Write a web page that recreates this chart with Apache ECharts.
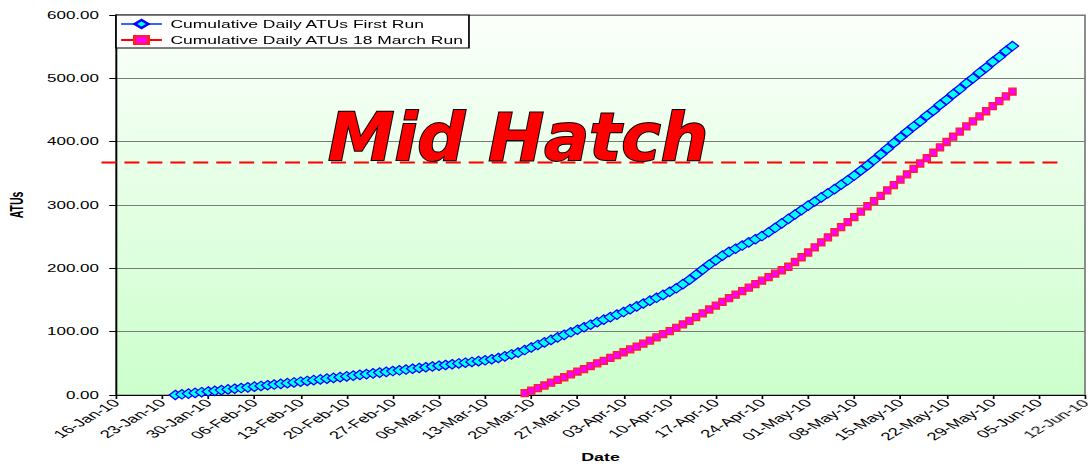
<!DOCTYPE html>
<html>
<head>
<meta charset="utf-8">
<script src="https://cdn.jsdelivr.net/npm/echarts@6/dist/echarts.min.js"></script>
<style>
  html, body { margin: 0; padding: 0; background: #fff; }
  #wrap { width: 1091px; height: 466px; overflow: hidden; background: #fff; }
  #chart { height: 466px; transform-origin: 0 0; }
</style>
</head>
<body>
<div id="wrap"><div id="chart"></div></div>
<script>
// Horizontal stretch of the whole drawing (the chart is laid out narrow, then widened).
const STRETCH = 1.7;
const LAYOUT_W = 1091 / STRETCH;

// Date axis: days counted from 16-Jan-10, one tick per week.
const axisStartDate = '2010-01-16';
const tickLabels = ['16-Jan-10', '23-Jan-10', '30-Jan-10', '06-Feb-10', '13-Feb-10', '20-Feb-10',
  '27-Feb-10', '06-Mar-10', '13-Mar-10', '20-Mar-10', '27-Mar-10', '03-Apr-10', '10-Apr-10',
  '17-Apr-10', '24-Apr-10', '01-May-10', '08-May-10', '15-May-10', '22-May-10', '29-May-10',
  '05-Jun-10', '12-Jun-10'];
const valueTicks = [0, 100, 200, 300, 400, 500, 600];

const seriesNames = ['Cumulative Daily ATUs First Run', 'Cumulative Daily ATUs 18 March Run'];

// Cumulative daily ATUs, one value per day from the start date.
const firstRunStart = '2010-01-25';
const firstRun = [
  0, 1.1, 2.2, 3.3, 4.4, 5.5, 6.6,
  7.7, 8.8, 9.9, 11.0, 12.1, 13.2, 14.3,
  15.4, 16.5, 17.6, 18.7, 19.8, 21.0, 22.2,
  23.4, 24.6, 25.8, 27.0, 28.2, 29.4, 30.6,
  31.8, 33.0, 34.2, 35.4, 36.6, 37.8, 39.0,
  40.2, 41.4, 42.6, 43.8, 45.0, 46.2, 47.4,
  48.6, 49.8, 51.0, 52.2, 53.4, 54.8, 56.4,
  58.4, 61.0, 64.0, 67.0, 71.0, 75.0, 79.0,
  83.0, 87.0, 91.0, 95.0, 99.0, 103.0, 107.0,
  111.0, 115.0, 119.0, 123.0, 127.0, 131.0, 135.5,
  140.0, 144.5, 149.0, 153.5, 158.0, 163.0, 168.5,
  175.0, 182.0, 190.0, 198.0, 206.0, 213.0, 220.0,
  226.0, 231.0, 236.0, 241.0, 246.0, 251.0, 257.0,
  264.0, 271.0, 278.0, 285.0, 292.0, 299.0, 305.5,
  312.0, 318.5, 325.0, 332.0, 339.0, 346.5, 354.5,
  362.5, 371.0, 380.0, 389.0, 398.0, 407.0, 415.5,
  424.0, 432.0, 441.0, 449.0, 458.0, 466.0, 475.0,
  483.0, 492.0, 500.0, 509.0, 517.0, 526.0, 534.0,
  543.0, 551.0
];

const marchRunStart = '2010-03-19';
const marchRun = [
  3, 7, 11, 15, 19.5, 24, 28,
  32.5, 37, 41, 45.5, 50, 54, 58.5,
  63, 67.5, 72, 76.5, 81, 86, 91,
  96, 101, 106, 111.5, 117, 123, 129,
  135, 141, 147, 153, 158.5, 164, 169.5,
  175, 180.5, 186, 191.5, 197, 202.5, 210,
  217.5, 225, 233, 241, 249, 257, 265,
  273, 281, 289.5, 298, 306, 314.5, 323,
  331.5, 340, 348.5, 357, 365.5, 374, 382.5,
  391, 399.5, 408, 416, 424, 432, 440,
  448, 456, 464, 471.5, 479
];

// Mid hatch threshold
const midHatchLabel = 'Mid Hatch';
const midHatchLevel = 367;

const DAY_MS = 86400000;
const dayIndex = (iso) => Math.round((Date.parse(iso) - Date.parse(axisStartDate)) / DAY_MS);
const toPairs = (startIso, values) => {
  const d0 = dayIndex(startIso);
  return values.map((v, i) => [d0 + i, v]);
};

const chartEl = document.getElementById('chart');
chartEl.style.width = LAYOUT_W + 'px';
chartEl.style.transform = 'scaleX(' + STRETCH + ')';

const chart = echarts.init(chartEl, null, { renderer: 'svg', width: LAYOUT_W, height: 466 });
const FONT = '"Liberation Sans", Arial, sans-serif';
const lastDay = (tickLabels.length - 1) * 7;

chart.setOption({
  animation: false,
  backgroundColor: '#ffffff',
  grid: {
    left: 116 / STRETCH,
    right: LAYOUT_W - 1085 / STRETCH,
    top: 15,
    bottom: 71,
    containLabel: false,
    outerBoundsMode: 'none',
    show: true,
    borderColor: '#7a7a7a',
    borderWidth: 1,
    backgroundColor: new echarts.graphic.LinearGradient(0, 0, 0, 1, [
      { offset: 0, color: '#fbfffb' },
      { offset: 1, color: '#ccffcc' }
    ])
  },
  legend: {
    orient: 'vertical',
    left: 116 / STRETCH,
    top: 15,
    padding: [4, 3, 3, 2],
    itemGap: 6,
    itemWidth: 24,
    itemHeight: 10,
    backgroundColor: '#ffffff',
    borderColor: '#000000',
    borderWidth: 1,
    textStyle: { fontFamily: FONT, fontSize: 10.3, color: '#000' },
    data: seriesNames
  },
  xAxis: {
    type: 'value',
    min: 0,
    max: lastDay,
    interval: 7,
    name: 'Date',
    nameLocation: 'middle',
    nameGap: 57,
    nameTextStyle: { fontFamily: FONT, fontSize: 10.5, fontWeight: 'bold', color: '#000' },
    axisLine: { show: true, onZero: false, lineStyle: { color: '#000', width: 1 } },
    axisTick: { show: true, length: 4, lineStyle: { color: '#000' } },
    splitLine: { show: false },
    axisLabel: {
      rotate: 45,
      margin: 6,
      fontFamily: FONT,
      fontSize: 11,
      color: '#000',
      showMinLabel: true,
      showMaxLabel: true,
      formatter: (v) => tickLabels[Math.round(v / 7)] || ''
    }
  },
  yAxis: {
    type: 'value',
    min: valueTicks[0],
    max: valueTicks[valueTicks.length - 1],
    interval: valueTicks[1] - valueTicks[0],
    name: 'ATUs',
    nameLocation: 'middle',
    nameRotate: 90,
    nameGap: 53,
    nameTextStyle: { fontFamily: FONT, fontSize: 10.5, fontWeight: 'bold', color: '#000' },
    axisLine: { show: true, lineStyle: { color: '#000', width: 1 } },
    axisTick: { show: true, length: 4, lineStyle: { color: '#000' } },
    splitLine: { show: true, lineStyle: { color: '#7a7a7a', width: 1.2 } },
    axisLabel: {
      margin: 10,
      fontFamily: FONT,
      fontSize: 10,
      color: '#000',
      formatter: (v) => v.toFixed(2)
    }
  },
  series: [
    {
      name: seriesNames[0],
      type: 'line',
      data: toPairs(firstRunStart, firstRun),
      symbol: 'diamond',
      symbolSize: [7.2, 9.5],
      showAllSymbol: true,
      lineStyle: { color: '#3366ff', width: 3 },
      itemStyle: { color: '#00ffff', borderColor: '#0000ff', borderWidth: 1 },
      z: 3
    },
    {
      name: seriesNames[1],
      type: 'line',
      data: toPairs(marchRunStart, marchRun),
      symbol: 'rect',
      symbolSize: [4.2, 7],
      showAllSymbol: true,
      lineStyle: { color: '#ff0000', width: 2 },
      itemStyle: { color: '#ff00ff', borderColor: '#ff2020', borderWidth: 1 },
      z: 3
    }
  ]
});

// Threshold line and its label, placed through the chart's own scales.
// The line runs a little past the left edge of the plot, so extend it from the axis start.
const p0 = chart.convertToPixel({ gridIndex: 0 }, [0, midHatchLevel]);
const p7 = chart.convertToPixel({ gridIndex: 0 }, [7, midHatchLevel]);
const pxPerDay = (p7[0] - p0[0]) / 7;
const lineEnd = chart.convertToPixel({ gridIndex: 0 }, [143.7, midHatchLevel]);
const labelAnchor = chart.convertToPixel({ gridIndex: 0 }, [61.0, midHatchLevel]);

chart.setOption({
  graphic: [
    {
      type: 'line',
      z: 2,
      shape: { x1: p0[0] - 2.2 * pxPerDay, y1: p0[1], x2: lineEnd[0], y2: lineEnd[1] },
      style: { stroke: '#ff0000', lineWidth: 2, lineDash: [8.8, 4.7] }
    },
    {
      type: 'text',
      z: 4,
      x: labelAnchor[0],
      y: labelAnchor[1] - 25,
      scaleX: 0.595,
      style: {
        text: midHatchLabel,
        x: 0,
        y: 0,
        align: 'center',
        verticalAlign: 'middle',
        fontFamily: '"DejaVu Sans", sans-serif',
        fontSize: 66,
        fontWeight: 'bold',
        fontStyle: 'oblique',
        fill: '#ff0000',
        stroke: '#000000',
        lineWidth: 2
      }
    }
  ]
});
</script>
</body>
</html>
